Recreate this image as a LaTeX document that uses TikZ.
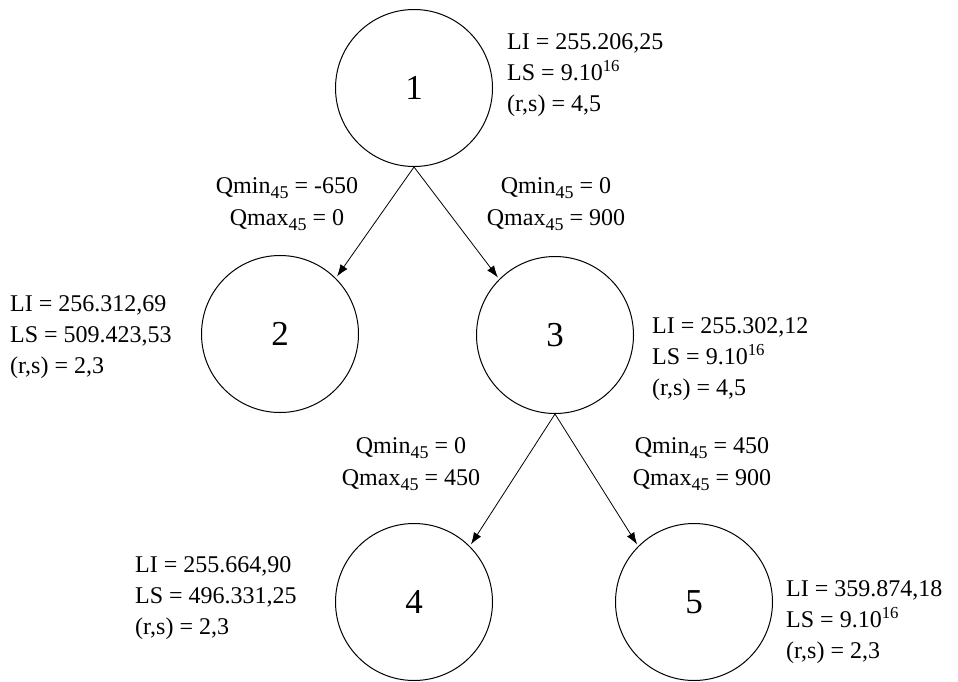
\documentclass[tikz,border=0pt]{standalone}
\usepackage{fontspec}
\setmainfont{Liberation Serif}
\usetikzlibrary{arrows.meta}
% lowered index, as in Qmin_45
\newcommand\lowidx[1]{\raisebox{-5pt}{\fontsize{18}{18}\selectfont #1}}
\begin{document}
\begin{tikzpicture}[x=1pt,y=-1pt,
  treenode/.style={circle,draw,line width=1pt,minimum size=157pt,inner sep=0pt,
    font=\fontsize{35}{40}\selectfont},
  info/.style={inner sep=0pt,align=left,anchor=west,
    font=\fontsize{24}{31}\selectfont},
  bound/.style={inner sep=0pt,align=center,
    font=\fontsize{24}{32}\selectfont},
  arr/.style={line width=0.8pt,-{Latex[length=12pt,width=8.5pt]},shorten >=2pt}]
  \useasboundingbox (0,0) rectangle (958,682);

  % tree nodes
  \node[treenode] (n1) at (414,88)  {1};
  \node[treenode] (n2) at (280,334) {2};
  \node[treenode] (n3) at (555,335) {3};
  \node[treenode] (n4) at (414,602) {4};
  \node[treenode] (n5) at (694,602) {5};

  % branching
  \draw[arr] (n1.south) -- (n2.north east);
  \draw[arr] (n1.south) -- (n3.north west);
  \draw[arr] (n3.south) -- (n4.north east);
  \draw[arr] (n3.south) -- (n5.north west);

  % bounds of each node
  \node[info] (i1) at (507,75)  {LI = 255.206,25\\LS = 9.10\textsuperscript{16}\\(r,s) = 4,5};
  \node[info] (i2) at (10,337)  {LI = 256.312,69\\LS = 509.423,53\\(r,s) = 2,3};
  \node[info] (i3) at (652,359) {LI = 255.302,12\\LS = 9.10\textsuperscript{16}\\(r,s) = 4,5};
  \node[info] (i4) at (135,598) {LI = 255.664,90\\LS = 496.331,25\\(r,s) = 2,3};
  \node[info] (i5) at (786,622) {LI = 359.874,18\\LS = 9.10\textsuperscript{16}\\(r,s) = 2,3};

  % branching constraints
  \node[bound] (b12) at (287,204) {Qmin\lowidx{45} = -650\\Qmax\lowidx{45} = 0};
  \node[bound] (b13) at (556,204) {Qmin\lowidx{45} = 0\\Qmax\lowidx{45} = 900};
  \node[bound] (b34) at (411,464) {Qmin\lowidx{45} = 0\\Qmax\lowidx{45} = 450};
  \node[bound] (b35) at (702,464) {Qmin\lowidx{45} = 450\\Qmax\lowidx{45} = 900};
\end{tikzpicture}
\end{document}
